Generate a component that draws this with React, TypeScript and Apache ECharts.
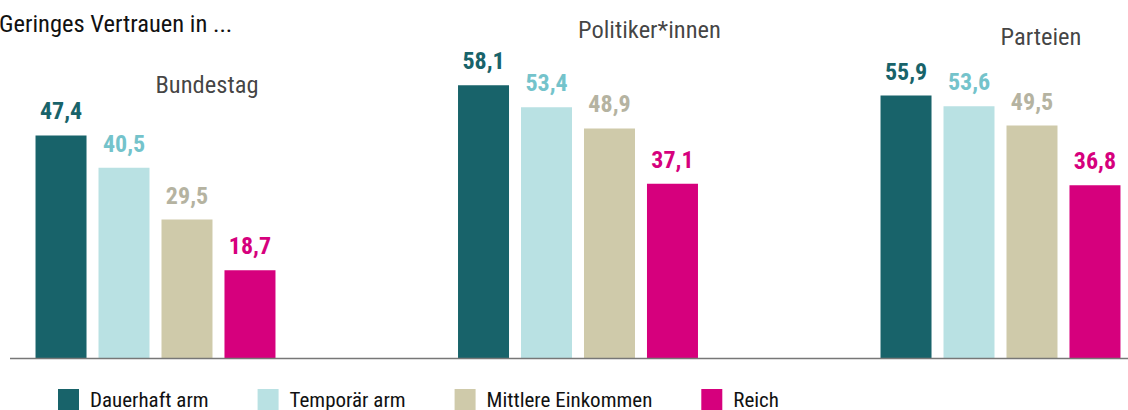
import React, { useEffect, useRef } from "react";
import * as echarts from "echarts";

const title = "Geringes Vertrauen in ...";
const categories = ["Bundestag", "Politiker*innen", "Parteien"];
const seriesNames = ["Dauerhaft arm", "Temporär arm", "Mittlere Einkommen", "Reich"];
const dauerhaftArm = [47.4, 58.1, 55.9];
const temporaerArm = [40.5, 53.4, 53.6];
const mittlereEinkommen = [29.5, 48.9, 49.5];
const reich = [18.7, 37.1, 36.8];
const categoryLabelLevel = [58.2, 69.9, 68.4];

const barColors = ["#18636A", "#B9E1E3", "#CFCAAA", "#D6007D"];
const labelColors = ["#18636A", "#74C3CB", "#B5B3A1", "#D6007D"];

const FONT = "'Roboto Condensed', 'Liberation Sans Narrow', 'DejaVu Sans Condensed', 'Arial Narrow', sans-serif";

export default function App() {
  const ref = useRef<HTMLDivElement>(null);

  useEffect(() => {
    if (!ref.current) return;
    const chart = echarts.init(ref.current, undefined, { renderer: "svg" });
    const values = [dauerhaftArm, temporaerArm, mittlereEinkommen, reich];
    const fmt = (v: number) => v.toFixed(1).replace(".", ",");

    const barSeries = values.map((data, i) => ({
      name: seriesNames[i],
      type: "bar",
      data: data.map((v, c) => [c, v]),
      barWidth: 51,
      barGap: "23.5%",
      itemStyle: { color: barColors[i] },
      label: {
        show: true,
        position: "top",
        distance: 12,
        formatter: (p: any) => fmt(p.value[1]),
        color: labelColors[i],
        fontFamily: FONT,
        fontWeight: "bold",
        fontSize: 24,
      },
    }));

    chart.setOption({
      animation: false,
      title: {
        text: title,
        left: -6,
        top: 6,
        textStyle: { fontFamily: FONT, fontWeight: "normal", fontSize: 24.5, color: "#111" },
      },
      legend: {
        data: seriesNames,
        left: 53,
        top: 384,
        icon: "rect",
        itemWidth: 21,
        itemHeight: 21,
        itemGap: 49,
        textStyle: { fontFamily: FONT, fontSize: 21, color: "#111", padding: [0, 0, 0, 6] },
      },
      grid: { left: 0, right: 0, top: 5.9, bottom: 52 },
      xAxis: {
        type: "value",
        min: -155.5 / 422.5,
        max: (1128 - 155.5) / 422.5,
        show: false,
        splitLine: { show: false },
      },
      yAxis: { type: "value", min: 0, max: 75, show: false, splitLine: { show: false } },
      series: [
        ...barSeries,
        {
          type: "scatter",
          data: categoryLabelLevel.map((v, c) => [c, v]),
          symbolSize: 0,
          silent: true,
          label: {
            show: true,
            position: "right",
            distance: 0,
            formatter: (p: any) => categories[p.dataIndex],
            fontFamily: FONT,
            fontSize: 24.5,
            color: "#111",
          },
          z: 5,
        },
      ],
      graphic: [
        {
          type: "line",
          shape: { x1: 10, y1: 358.5, x2: 1128, y2: 358.5 },
          style: { stroke: "#777", lineWidth: 1.5 },
          z: 10,
        },
      ],
    });

    return () => chart.dispose();
  }, []);

  return (
    <div
      ref={ref}
      style={{ position: "fixed", left: 0, top: 0, width: 1128, height: 410, background: "#fff" }}
    />
  );
}
